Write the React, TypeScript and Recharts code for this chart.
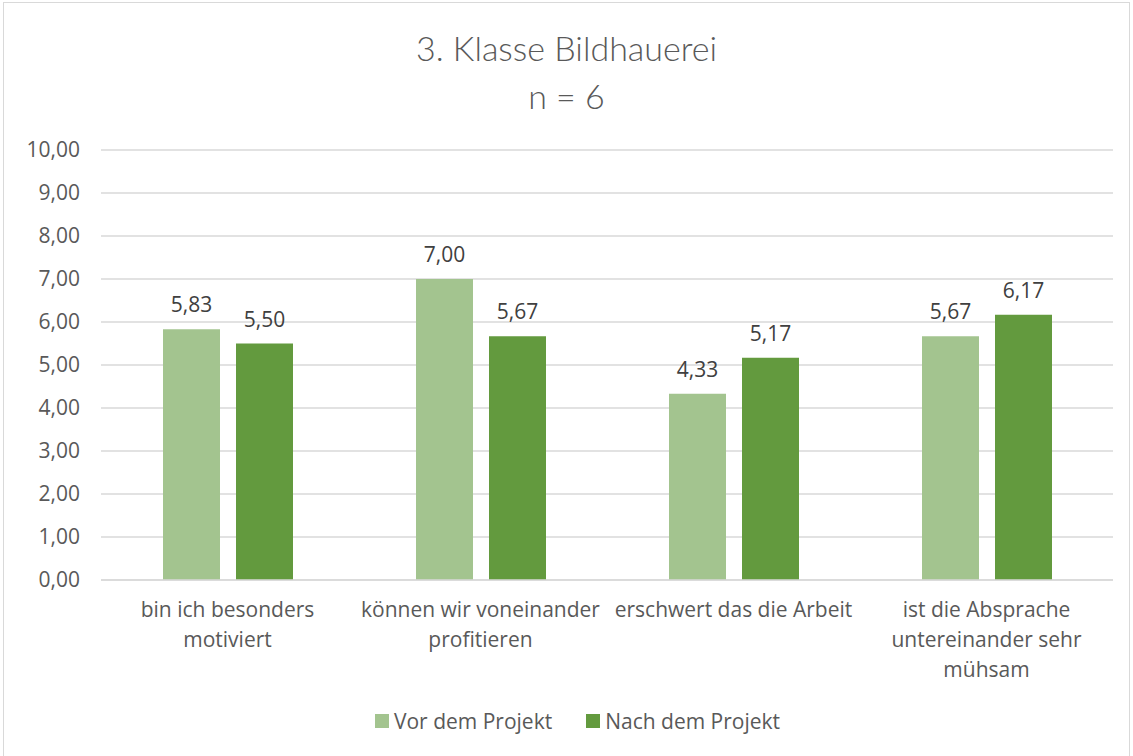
import { BarChart, Bar, XAxis, YAxis, CartesianGrid, LabelList } from 'recharts';

const categories = [
  'bin ich besonders\nmotiviert',
  'können wir voneinander\nprofitieren',
  'erschwert das die Arbeit',
  'ist die Absprache\nuntereinander sehr\nmühsam',
];
const vorValues = [5.83, 7.0, 4.33, 5.67];
const nachValues = [5.5, 5.67, 5.17, 6.17];
const yTicks = [0, 1, 2, 3, 4, 5, 6, 7, 8, 9, 10];

const COLORS = {
  vor: '#A3C48F',
  nach: '#639A3E',
  grid: '#D9D9D9',
  text: '#595959',
  label: '#404040',
};

const FONT = '"Open Sans", "Noto Sans", sans-serif';

const data = categories.map((name, i) => ({
  name,
  vor: vorValues[i],
  nach: nachValues[i],
}));

const fmt = (v: number) => v.toFixed(2).replace('.', ',');

const CategoryTick = ({ x, y, payload }: { x?: number; y?: number; payload?: { value: string } }) => {
  const lines = (payload?.value ?? '').split('\n');
  return (
    <text x={x} y={y} textAnchor="middle" fill={COLORS.text} fontSize={21} fontFamily={FONT}>
      {lines.map((line, i) => (
        <tspan key={i} x={x} dy={i === 0 ? 29 : 30}>
          {line}
        </tspan>
      ))}
    </text>
  );
};

export default function App() {
  return (
    <div style={{ position: 'relative', width: 1133, height: 756, background: '#fff', overflow: 'hidden' }}>
      <style>{'body{margin:0}'}</style>
      <div
        style={{
          position: 'absolute',
          left: 3,
          top: 2,
          width: 1125,
          height: 770,
          border: '1px solid #D9D9D9',
        }}
      />
      <div
        style={{
          position: 'absolute',
          top: 24,
          left: 0,
          width: 1133,
          textAlign: 'center',
          fontFamily: 'Lato, "Open Sans", sans-serif',
          fontWeight: 300,
          fontSize: 34,
          lineHeight: '48px',
          color: COLORS.text,
        }}
      >
        <div>3. Klasse Bildhauerei</div>
        <div>n = 6</div>
      </div>
      <div style={{ position: 'absolute', left: 0, top: 0 }}>
        <BarChart
          width={1133}
          height={756}
          data={data}
          margin={{ top: 150, right: 20, bottom: 146, left: 0 }}
          barSize={57}
          barGap={16}
        >
          <CartesianGrid vertical={false} stroke={COLORS.grid} strokeWidth={1.5} />
          <XAxis
            dataKey="name"
            axisLine={{ stroke: COLORS.grid, strokeWidth: 1.5 }}
            tickLine={false}
            tick={<CategoryTick />}
            interval={0}
          />
          <YAxis
            width={101}
            domain={[0, 10]}
            ticks={yTicks}
            axisLine={false}
            tickLine={false}
            tickMargin={15}
            tickFormatter={fmt}
            tick={{ fontSize: 21, fill: COLORS.text, fontFamily: FONT }}
          />
          <Bar dataKey="vor" name="Vor dem Projekt" fill={COLORS.vor} isAnimationActive={false}>
            <LabelList
              dataKey="vor"
              position="top"
              offset={17}
              formatter={(v: number) => fmt(v)}
              style={{ fontSize: 21, fill: COLORS.label, fontFamily: FONT }}
            />
          </Bar>
          <Bar dataKey="nach" name="Nach dem Projekt" fill={COLORS.nach} isAnimationActive={false}>
            <LabelList
              dataKey="nach"
              position="top"
              offset={17}
              formatter={(v: number) => fmt(v)}
              style={{ fontSize: 21, fill: COLORS.label, fontFamily: FONT }}
            />
          </Bar>
        </BarChart>
      </div>
      <div
        style={{
          position: 'absolute',
          top: 707,
          left: 11,
          width: 1133,
          display: 'flex',
          justifyContent: 'center',
          gap: 34,
          fontFamily: FONT,
          fontSize: 21,
          color: COLORS.text,
        }}
      >
        {[
          { label: 'Vor dem Projekt', color: COLORS.vor },
          { label: 'Nach dem Projekt', color: COLORS.nach },
        ].map((item) => (
          <div key={item.label} style={{ display: 'flex', alignItems: 'center', gap: 5 }}>
            <span style={{ width: 14, height: 14, background: item.color, display: 'inline-block' }} />
            <span>{item.label}</span>
          </div>
        ))}
      </div>
    </div>
  );
}
